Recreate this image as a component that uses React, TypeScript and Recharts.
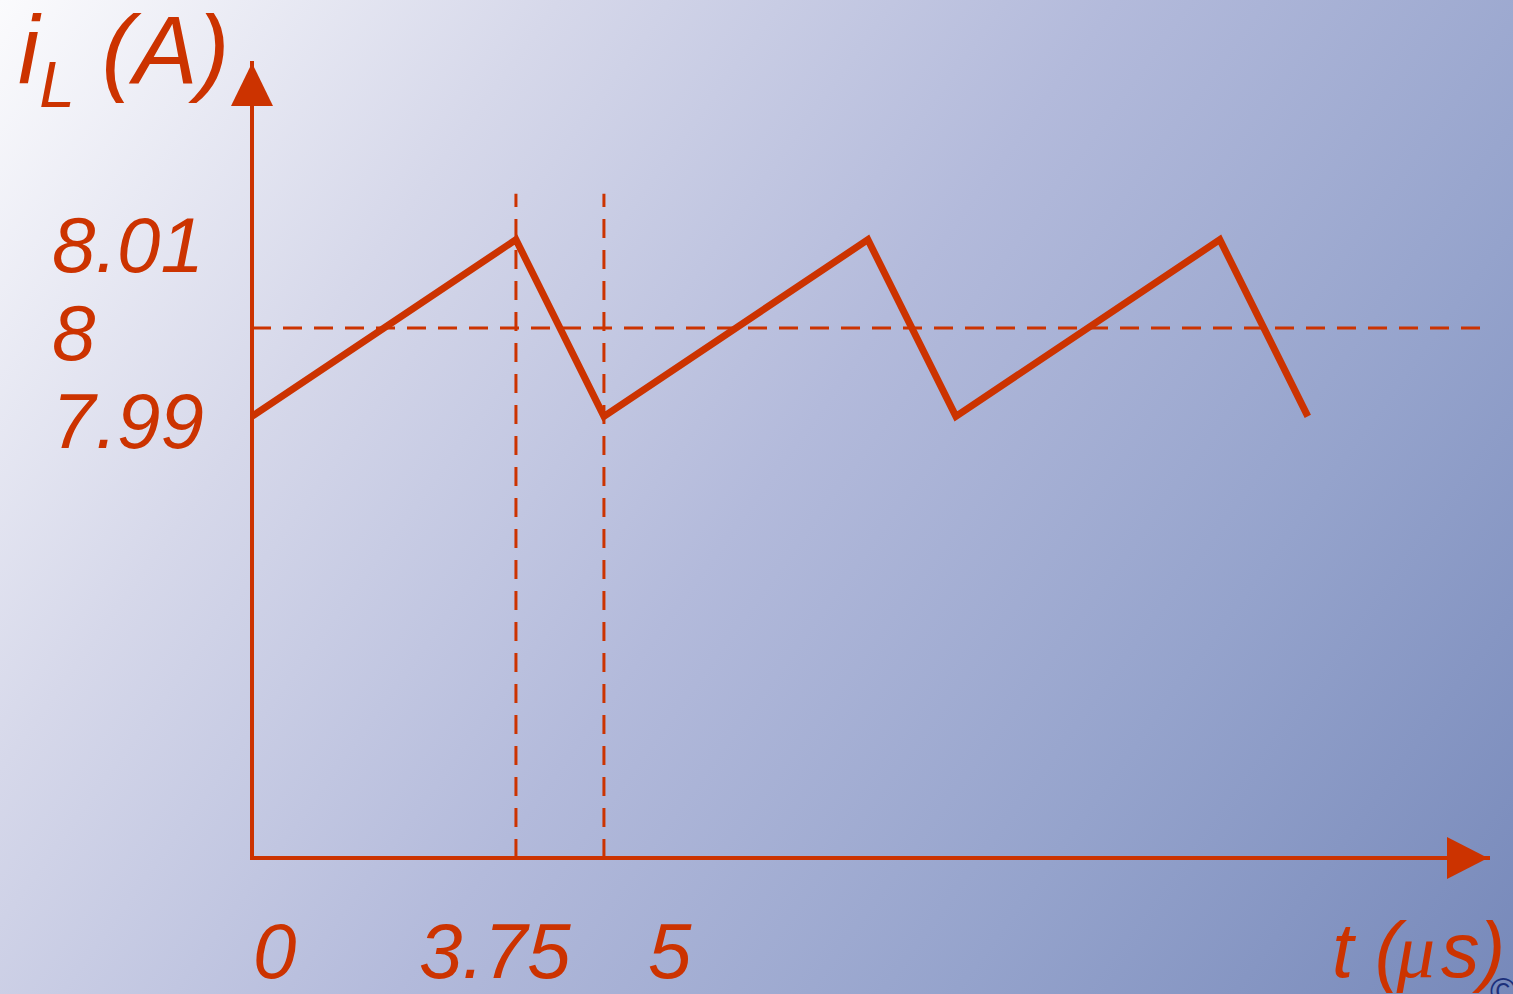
import React from "react";
import {
  LineChart,
  Line,
  XAxis,
  YAxis,
  ReferenceLine,
  ReferenceDot,
} from "recharts";

// waveform corners (t in µs, iL in A)
const times = [0, 3.75, 5, 8.75, 10, 13.75, 15];
const current = [7.99, 8.01, 7.99, 8.01, 7.99, 8.01, 7.99];

const xTicks = [0, 3.75, 5];
const yTicks = [7.99, 8, 8.01];
const xTickLabels = ["0", "3.75", "5"];
const yTickLabels = ["7.99", "8", "8.01"];

const xDomain = [0, 17.56];
const yDomain = [7.94, 8.03];
const meanCurrent = 8;
const dashTop = 8.0152;

const RED = "#cc3300";
const FONT = "'Liberation Sans', Arial, Helvetica, sans-serif";

const data = times.map((t, i) => ({ t, iL: current[i] }));

// label nudges, the slide had them placed by hand
const xLabelShift: Record<string, number> = { "0": 1, "3.75": -97, "5": 44 };

function XTick(props: any) {
  const { x, payload } = props;
  const idx = xTicks.indexOf(payload.value);
  const txt = xTickLabels[idx] ?? String(payload.value);
  return (
    <text
      x={x + (xLabelShift[txt] ?? 0)}
      y={978}
      fill={RED}
      fontSize={78}
      fontStyle="italic"
      fontFamily={FONT}
      textAnchor="start"
    >
      {txt}
    </text>
  );
}

function YTick(props: any) {
  const { y, payload } = props;
  const idx = yTicks.indexOf(payload.value);
  const txt = yTickLabels[idx] ?? String(payload.value);
  return (
    <text
      x={52}
      y={y + 32}
      fill={RED}
      fontSize={78}
      fontStyle="italic"
      fontFamily={FONT}
      textAnchor="start"
    >
      {txt}
    </text>
  );
}

const upArrow = (p: any) => (
  <path
    d={`M${p.cx},${p.cy} L${p.cx - 21},${p.cy + 43} L${p.cx + 21},${p.cy + 43} Z`}
    fill={RED}
  />
);

const rightArrow = (p: any) => (
  <path
    d={`M${p.cx},${p.cy} L${p.cx - 41},${p.cy - 21} L${p.cx - 41},${p.cy + 21} Z`}
    fill={RED}
  />
);

function YTitle() {
  return (
    <text x={18} y={83} fill={RED} fontFamily={FONT} fontStyle="italic" fontSize={96}>
      i
      <tspan fontSize={64} dy={24}>
        L
      </tspan>
      <tspan dy={-24}> (A)</tspan>
    </text>
  );
}

function XTitle() {
  return (
    <text x={1332} y={977} fill={RED} fontFamily={FONT} fontStyle="italic" fontSize={77}>
      t (
      <tspan fontFamily="'Liberation Serif', 'DejaVu Serif', serif" dx={-4}>
        μ
      </tspan>
      <tspan dx={6}>s)</tspan>
    </text>
  );
}

export default function App() {
  return (
    <div
      style={{
        position: "absolute",
        left: 0,
        top: 0,
        width: 1513,
        height: 994,
        overflow: "hidden",
        background:
          "linear-gradient(126deg, #fbfbfd 0%, #d6d8ea 25%, #b3badb 50%, #95a3cc 75%, #7789ba 100%)",
      }}
    >
      <LineChart
        width={1513}
        height={994}
        data={data}
        margin={{ top: 63, right: 25, bottom: 0, left: 0 }}
      >
        <XAxis
          dataKey="t"
          type="number"
          domain={xDomain}
          ticks={xTicks}
          interval={0}
          tickLine={false}
          height={136}
          axisLine={{ stroke: RED, strokeWidth: 4, strokeLinecap: "square" }}
          tick={(p: any) => <XTick {...p} />}
          label={{ content: () => <XTitle /> }}
        />
        <YAxis
          type="number"
          domain={yDomain}
          ticks={yTicks}
          interval={0}
          tickLine={false}
          width={252}
          allowDataOverflow
          axisLine={{ stroke: RED, strokeWidth: 4, strokeLinecap: "square" }}
          tick={(p: any) => <YTick {...p} />}
          label={{ content: () => <YTitle /> }}
        />
        <ReferenceLine
          y={meanCurrent}
          stroke={RED}
          strokeWidth={3}
          strokeDasharray="19 12"
        />
        {xTicks.slice(1).map((v) => (
          <ReferenceLine
            key={v}
            segment={[
              { x: v, y: yDomain[0] },
              { x: v, y: dashTop },
            ]}
            stroke={RED}
            strokeWidth={3}
            strokeDasharray="19 12"
          />
        ))}
        <Line
          type="linear"
          dataKey="iL"
          stroke={RED}
          strokeWidth={7}
          dot={false}
          activeDot={false}
          isAnimationActive={false}
        />
        <ReferenceDot x={xDomain[0]} y={yDomain[1]} r={1} ifOverflow="visible" shape={upArrow} />
        <ReferenceDot x={xDomain[1]} y={yDomain[0]} r={1} ifOverflow="visible" shape={rightArrow} />
      </LineChart>
      <div
        style={{
          position: "absolute",
          left: 1490,
          top: 974,
          fontFamily: FONT,
          fontSize: 36,
          lineHeight: "36px",
          color: "#1c2f7a",
        }}
      >
        ©
      </div>
    </div>
  );
}
